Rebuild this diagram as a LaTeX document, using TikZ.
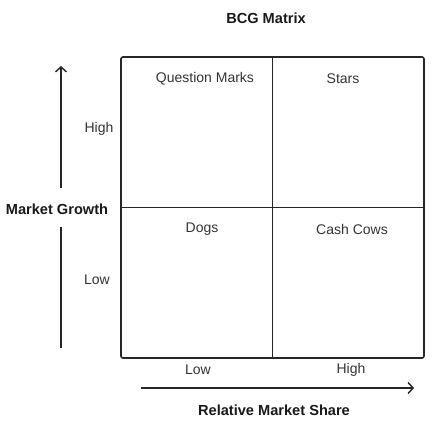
\documentclass[tikz,border=0pt]{standalone}
\usepackage{fontspec}
\setmainfont{Liberation Sans}
\usetikzlibrary{arrows.meta}
\begin{document}
\begin{tikzpicture}[x=1pt,y=-1pt,
  lbl/.style={font=\fontsize{14}{16}\selectfont,text=black!80},
  head/.style={font=\fontsize{14.6}{17}\selectfont\bfseries,text=black!90},
  bar/.style={line width=1.4pt,black!85},
  axis/.style={bar,-{Straight Barb[length=5pt,width=11pt]}}]
\useasboundingbox (0,0) rectangle (432,425);
\node[head] (title) at (266,18) {BCG Matrix};
% the matrix
\node[draw,line width=1.6pt,black!85,rounded corners=2pt,inner sep=0pt,
  minimum width=303pt,minimum height=301pt] (mat) at (272.5,207.5) {};
\draw[line width=1.6pt,black!85] (mat.north) -- (mat.south);
\draw[line width=1.6pt,black!85] (mat.west) -- (mat.east);
\node[lbl] (qm) at (205,79) {Question Marks};
\node[lbl] (st) at (343,79) {Stars};
\node[lbl] (dg) at (202,229) {Dogs};
\node[lbl] (cc) at (352,229) {Cash Cows};
% market growth axis
\node[head] (mg) at (57,209) {Market Growth};
\node[lbl] (ghi) at (99,129) {High};
\node[lbl] (glo) at (97,280) {Low};
\coordinate (g0) at (61,348);
\coordinate (g1) at (61,227);
\coordinate (g2) at (61,188);
\coordinate (g3) at (61,66);
\draw[bar] (g0) -- (g1);
\draw[axis] (g2) -- (g3);
% market share axis
\node[lbl] (slo) at (198,370) {Low};
\node[lbl] (shi) at (351,370) {High};
\coordinate (s0) at (141,388);
\coordinate (s1) at (414,388);
\draw[axis] (s0) -- (s1);
\node[head] (rms) at (274,410) {Relative Market Share};
\end{tikzpicture}
\end{document}
